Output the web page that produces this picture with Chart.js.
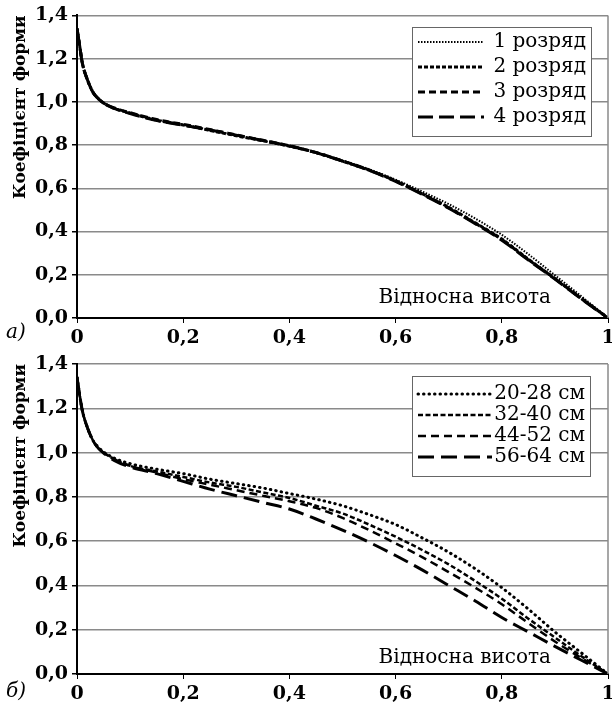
<!DOCTYPE html>
<html>
<head>
<meta charset="utf-8">
<script src="https://cdn.jsdelivr.net/npm/chart.js@4.4.0/dist/chart.umd.min.js"></script>
<style>
  body { margin: 0; background: #fff; }
  .panel { position: absolute; left: 0; width: 612px; }
  #panelA { top: 0; height: 346px; }
  #panelB { top: 346px; height: 360px; }
</style>
</head>
<body>
<div class="panel" id="panelA"><canvas id="chartA" width="612" height="346"></canvas></div>
<div class="panel" id="panelB"><canvas id="chartB" width="612" height="360"></canvas></div>
<script>
// Relative height along the stem (x axis)
const relHeight = [0, 0.005, 0.01, 0.02, 0.03, 0.04, 0.05, 0.07, 0.1, 0.15, 0.2, 0.25, 0.3, 0.35, 0.4, 0.45, 0.5, 0.55, 0.6, 0.65, 0.7, 0.75, 0.8, 0.85, 0.9, 0.95, 1];

// Axis ticks
const xTicks = [0, 0.2, 0.4, 0.6, 0.8, 1];
const xTickLabels = ["0", "0,2", "0,4", "0,6", "0,8", "1"];
const yTicks = [0, 0.2, 0.4, 0.6, 0.8, 1.0, 1.2, 1.4];
const yTickLabels = ["0,0", "0,2", "0,4", "0,6", "0,8", "1,0", "1,2", "1,4"];

// а) form coefficient by height class
const classLabels = ["1 розряд", "2 розряд", "3 розряд", "4 розряд"];
const class1 = [1.34, 1.26, 1.18, 1.10, 1.045, 1.015, 0.995, 0.972, 0.95, 0.918, 0.895, 0.87, 0.845, 0.82, 0.795, 0.765, 0.728, 0.688, 0.64, 0.585, 0.527, 0.46, 0.385, 0.295, 0.198, 0.10, 0];
const class2 = [1.34, 1.26, 1.18, 1.10, 1.045, 1.015, 0.995, 0.97, 0.948, 0.915, 0.893, 0.868, 0.843, 0.82, 0.795, 0.765, 0.726, 0.684, 0.635, 0.575, 0.512, 0.44, 0.365, 0.272, 0.183, 0.09, 0];
const class3 = [1.34, 1.26, 1.18, 1.10, 1.045, 1.015, 0.995, 0.972, 0.95, 0.918, 0.896, 0.872, 0.847, 0.822, 0.797, 0.766, 0.727, 0.685, 0.634, 0.574, 0.51, 0.438, 0.363, 0.27, 0.182, 0.09, 0];
const class4 = [1.34, 1.26, 1.18, 1.10, 1.045, 1.015, 0.995, 0.97, 0.946, 0.914, 0.892, 0.87, 0.846, 0.821, 0.796, 0.765, 0.726, 0.683, 0.632, 0.572, 0.508, 0.436, 0.36, 0.268, 0.18, 0.088, 0];

// б) form coefficient by diameter group
const diamLabels = ["20-28 см", "32-40 см", "44-52 см", "56-64 см"];
const diam20 = [1.34, 1.26, 1.19, 1.11, 1.055, 1.025, 1.003, 0.975, 0.95, 0.925, 0.905, 0.88, 0.86, 0.84, 0.815, 0.79, 0.76, 0.72, 0.675, 0.615, 0.55, 0.475, 0.39, 0.293, 0.19, 0.095, 0];
const diam32 = [1.34, 1.26, 1.19, 1.11, 1.055, 1.02, 1.0, 0.97, 0.94, 0.915, 0.89, 0.865, 0.845, 0.82, 0.795, 0.76, 0.725, 0.675, 0.62, 0.56, 0.495, 0.42, 0.34, 0.25, 0.165, 0.08, 0];
const diam44 = [1.34, 1.26, 1.19, 1.11, 1.055, 1.02, 1.0, 0.97, 0.94, 0.91, 0.88, 0.855, 0.83, 0.805, 0.78, 0.75, 0.705, 0.65, 0.59, 0.528, 0.46, 0.39, 0.315, 0.23, 0.147, 0.072, 0];
const diam56 = [1.34, 1.26, 1.19, 1.11, 1.055, 1.02, 0.998, 0.965, 0.935, 0.905, 0.87, 0.835, 0.805, 0.775, 0.745, 0.70, 0.65, 0.595, 0.535, 0.47, 0.40, 0.33, 0.255, 0.19, 0.125, 0.062, 0];

const serif = "'DejaVu Serif', 'Liberation Serif', serif";
const gridColor = "#8a8a8a";

function toPoints(values) {
  return relHeight.map((x, i) => ({ x: x, y: values[i] }));
}

function makeDataset(label, values, dash, width, cap) {
  return {
    label: label,
    data: toPoints(values),
    borderColor: "#000",
    borderWidth: width,
    borderDash: dash,
    borderCapStyle: cap || "butt",
    pointRadius: 0,
    cubicInterpolationMode: "monotone",
    fill: false,
  };
}

// Draws the right frame, the boxed legend, the inner x title and the panel letter
const extrasPlugin = {
  id: "extras",
  afterDatasetsDraw(chart, args, opts) {
    const ctx = chart.ctx;
    const area = chart.chartArea;
    ctx.save();

    ctx.strokeStyle = gridColor;
    ctx.lineWidth = 1.5;
    ctx.beginPath();
    ctx.moveTo(area.right, area.top);
    ctx.lineTo(area.right, area.bottom);
    ctx.stroke();

    const lg = opts.legend;
    ctx.fillStyle = "#fff";
    ctx.fillRect(lg.x, lg.y, lg.w, lg.h);
    ctx.strokeStyle = "#666";
    ctx.lineWidth = 1;
    ctx.strokeRect(lg.x + 0.5, lg.y + 0.5, lg.w, lg.h);

    chart.data.datasets.forEach((ds, i) => {
      const y = lg.y + lg.first + i * lg.step;
      ctx.strokeStyle = "#000";
      ctx.lineWidth = ds.borderWidth;
      ctx.lineCap = ds.borderCapStyle;
      ctx.setLineDash(ds.borderDash);
      ctx.beginPath();
      ctx.moveTo(lg.x + 6, y);
      ctx.lineTo(lg.x + lg.lineLen, y);
      ctx.stroke();
      ctx.setLineDash([]);
      ctx.fillStyle = "#000";
      ctx.font = "20px " + serif;
      ctx.textAlign = "right";
      ctx.textBaseline = "middle";
      ctx.fillText(ds.label, lg.x + lg.w - 5, y);
    });

    ctx.fillStyle = "#000";
    ctx.font = "20px " + serif;
    ctx.textAlign = "right";
    ctx.textBaseline = "middle";
    ctx.fillText("Відносна висота", area.right - 57, area.bottom - opts.titleOffset);

    ctx.font = "italic 20px " + serif;
    ctx.textAlign = "left";
    ctx.fillText(opts.letter, 6, opts.letterY);
    ctx.restore();
  },
};

function makeChart(canvasId, datasets, plotTop, plotBottom, extras) {
  const canvas = document.getElementById(canvasId);
  const ctx = canvas.getContext("2d");
  return new Chart(ctx, {
    type: "line",
    data: { datasets: datasets },
    plugins: [extrasPlugin],
    options: {
      responsive: false,
      animation: false,
      layout: { padding: { top: plotTop, right: 4, left: 0, bottom: 0 } },
      plugins: {
        legend: { display: false },
        tooltip: { enabled: false },
        extras: extras,
      },
      scales: {
        x: {
          type: "linear",
          min: 0,
          max: 1,
          afterBuildTicks: (scale) => {
            scale.ticks = xTicks.map((v) => ({ value: v }));
          },
          afterFit: (scale) => {
            scale.height = canvas.height - plotBottom;
            scale.paddingLeft = 0;
            scale.paddingRight = 0;
          },
          ticks: {
            color: "#000",
            font: { family: serif, size: 19, weight: "bold" },
            padding: 4,
            maxRotation: 0,
            callback: (value, index) => xTickLabels[index],
          },
          grid: {
            drawOnChartArea: false,
            drawTicks: true,
            tickLength: 5,
            tickColor: "#000",
          },
          border: { color: "#000", width: 2 },
        },
        y: {
          min: 0,
          max: 1.4,
          afterBuildTicks: (scale) => {
            scale.ticks = yTicks.map((v) => ({ value: v }));
          },
          afterFit: (scale) => {
            scale.width = 77;
          },
          ticks: {
            color: "#000",
            font: { family: serif, size: 19, weight: "bold" },
            padding: 4,
            callback: (value, index) => yTickLabels[index],
          },
          grid: {
            color: gridColor,
            lineWidth: 1.5,
            tickLength: 5,
            tickColor: "#000",
          },
          border: { color: "#000", width: 2 },
          title: {
            display: true,
            text: "Коефіцієнт форми",
            align: "end",
            color: "#000",
            font: { family: serif, size: 17, weight: "bold" },
            padding: { top: 10, bottom: 0 },
          },
        },
      },
    },
  });
}

// а) height classes
makeChart(
  "chartA",
  [
    makeDataset(classLabels[0], class1, [1.5, 1.5], 2),
    makeDataset(classLabels[1], class2, [4, 2], 3),
    makeDataset(classLabels[2], class3, [7, 4], 3),
    makeDataset(classLabels[3], class4, [15, 6], 3),
  ],
  14,
  318,
  {
    legend: { x: 412, y: 27, w: 179, h: 109, first: 15, step: 25, lineLen: 72 },
    titleOffset: 20,
    letter: "а)",
    letterY: 333,
  }
);

// б) diameter groups
makeChart(
  "chartB",
  [
    makeDataset(diamLabels[0], diam20, [0.5, 5], 3, "round"),
    makeDataset(diamLabels[1], diam32, [5, 2.5], 2.5),
    makeDataset(diamLabels[2], diam44, [8, 5], 2.5),
    makeDataset(diamLabels[3], diam56, [16, 7], 3),
  ],
  18,
  328,
  {
    legend: { x: 412, y: 30, w: 178, h: 100, first: 18, step: 21, lineLen: 80 },
    titleOffset: 16,
    letter: "б)",
    letterY: 346,
  }
);
</script>
</body>
</html>
